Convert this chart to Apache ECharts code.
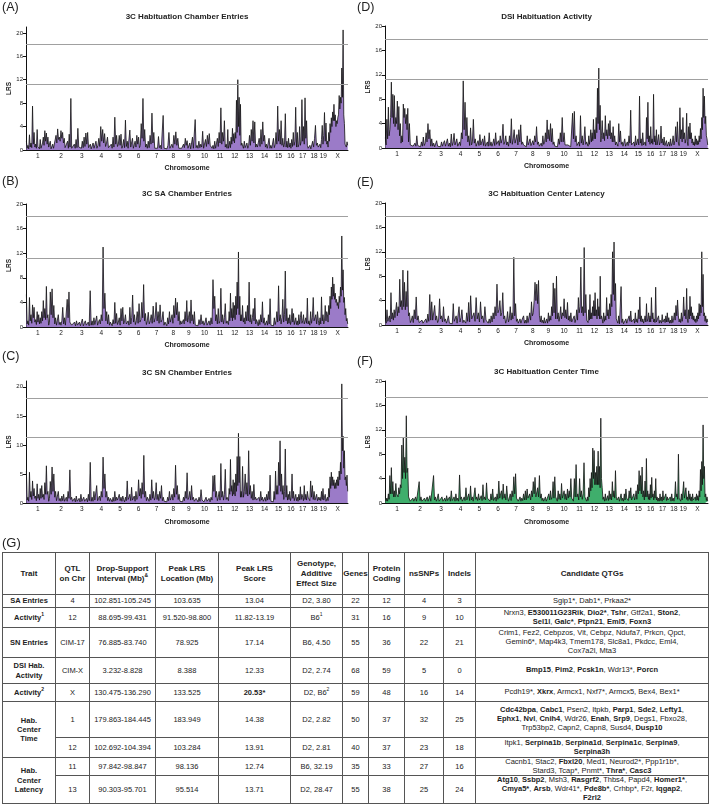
<!DOCTYPE html>
<html><head><meta charset="utf-8">
<script src="https://cdn.jsdelivr.net/npm/echarts@6/dist/echarts.min.js"></script>
<style>
body{margin:0;background:#fff;font-family:"Liberation Sans",Arial,sans-serif;color:#222;}
#chart{position:absolute;left:0;top:0;width:709px;height:540px;}
#glabel{position:absolute;left:2px;top:535px;font-size:13px;}
table{position:absolute;left:2px;top:552px;width:706px;border-collapse:collapse;table-layout:fixed;font-size:7.5px;}
td,th{border:1px solid #555;text-align:center;vertical-align:middle;padding:0;line-height:9.2px;white-space:nowrap;overflow:visible;}
td.q{line-height:8.7px;}
th{font-weight:bold;font-size:8px;line-height:10px;}
sup{font-size:5px;line-height:0;vertical-align:4px;}
</style></head>
<body>
<div id="chart"></div>
<div id="glabel">(G)</div>
<table>
<colgroup><col style="width:53px"><col style="width:34px"><col style="width:66px"><col style="width:63px"><col style="width:72px"><col style="width:52px"><col style="width:26px"><col style="width:36px"><col style="width:39px"><col style="width:32px"><col style="width:233px"></colgroup>
<tr style="height:42px"><th>Trait</th><th>QTL<br>on Chr</th><th>Drop-Support<br>Interval (Mb)<sup>&amp;</sup></th><th>Peak LRS<br>Location (Mb)</th><th>Peak LRS<br>Score</th><th>Genotype,<br>Additive<br>Effect Size</th><th>Genes</th><th>Protein<br>Coding</th><th>nsSNPs</th><th>Indels</th><th>Candidate QTGs</th></tr>
<tr style="height:13px"><td><b>SA Entries</b></td><td>4</td><td>102.851-105.245</td><td>103.635</td><td>13.04</td><td>D2, 3.80</td><td>22</td><td>12</td><td>4</td><td>3</td><td class="q">Sgip1*, Dab1*, Prkaa2*</td></tr>
<tr style="height:20px"><td><b>Activity<sup>1</sup></b></td><td>12</td><td>88.695-99.431</td><td>91.520-98.800</td><td>11.82-13.19</td><td>B6<sup>1</sup></td><td>31</td><td>16</td><td>9</td><td>10</td><td class="q">Nrxn3, <b>E530011G23Rik</b>, <b>Dio2*</b>, <b>Tshr</b>, Gtf2a1, <b>Ston2</b>,<br><b>Sel1l</b>, <b>Galc*</b>, <b>Ptpn21</b>, <b>Eml5</b>, <b>Foxn3</b></td></tr>
<tr style="height:30px"><td><b>SN Entries</b></td><td>CIM-17</td><td>76.885-83.740</td><td>78.925</td><td>17.14</td><td>B6, 4.50</td><td>55</td><td>36</td><td>22</td><td>21</td><td class="q">Crim1, Fez2, Cebpzos, Vit, Cebpz, Ndufa7, Prkcn, Qpct,<br>Gemin6*, Map4k3, Tmem178, Slc8a1, Pkdcc, Eml4,<br>Cox7a2l, Mta3</td></tr>
<tr style="height:26px"><td><b>DSI Hab.<br>Activity</b></td><td>CIM-X</td><td>3.232-8.828</td><td>8.388</td><td>12.33</td><td>D2, 2.74</td><td>68</td><td>59</td><td>5</td><td>0</td><td class="q"><b>Bmp15</b>, <b>Pim2</b>, <b>Pcsk1n</b>, Wdr13*, <b>Porcn</b></td></tr>
<tr style="height:18px"><td><b>Activity<sup>2</sup></b></td><td>X</td><td>130.475-136.290</td><td>133.525</td><td><b>20.53*</b></td><td>D2, B6<sup>2</sup></td><td>59</td><td>48</td><td>16</td><td>14</td><td class="q">Pcdh19*, <b>Xkrx</b>, Armcx1, Nxf7*, Armcx5, Bex4, Bex1*</td></tr>
<tr style="height:36px"><td rowspan="2"><b>Hab.<br>Center<br>Time</b></td><td>1</td><td>179.863-184.445</td><td>183.949</td><td>14.38</td><td>D2, 2.82</td><td>50</td><td>37</td><td>32</td><td>25</td><td class="q"><b>Cdc42bpa</b>, <b>Cabc1</b>, Psen2, Itpkb, <b>Parp1</b>, <b>Sde2</b>, <b>Lefty1</b>,<br><b>Ephx1</b>, <b>Nvl</b>, <b>Cnih4</b>, Wdr26, <b>Enah</b>, <b>Srp9</b>, Degs1, Fbxo28,<br>Trp53bp2, Capn2, Capn8, Susd4, <b>Dusp10</b></td></tr>
<tr style="height:20px"><td>12</td><td>102.692-104.394</td><td>103.284</td><td>13.91</td><td>D2, 2.81</td><td>40</td><td>37</td><td>23</td><td>18</td><td class="q">Itpk1, <b>Serpina1b</b>, <b>Serpina1d</b>, <b>Serpina1c</b>, <b>Serpina9</b>,<br><b>Serpina3h</b></td></tr>
<tr style="height:18px"><td rowspan="2"><b>Hab.<br>Center<br>Latency</b></td><td>11</td><td>97.842-98.847</td><td>98.136</td><td>12.74</td><td>B6, 32.19</td><td>35</td><td>33</td><td>27</td><td>16</td><td class="q">Cacnb1, Stac2, <b>Fbxl20</b>, Med1, Neurod2*, Ppp1r1b*,<br>Stard3, Tcap*, Pnmt*, <b>Thra*</b>, <b>Casc3</b></td></tr>
<tr style="height:26px"><td>13</td><td>90.303-95.701</td><td>95.514</td><td>13.71</td><td>D2, 28.47</td><td>55</td><td>38</td><td>25</td><td>24</td><td class="q"><b>Atg10</b>, <b>Ssbp2</b>, Msh3, <b>Rasgrf2</b>, Thbs4, Papd4, <b>Homer1*</b>,<br><b>Cmya5*</b>, <b>Arsb</b>, Wdr41*, <b>Pde8b*</b>, Crhbp*, F2r, <b>Iqgap2</b>,<br><b>F2rl2</b></td></tr>
</table>
<script>
const chrNames = ['1','2','3','4','5','6','7','8','9','10','11','12','13','14','15','16','17','18','19','X'];
const chrLengths = [195,182,160,157,152,150,145,129,125,131,122,120,121,125,104,98,95,91,61,171];
const panelTitles = ['3C Habituation Chamber Entries','3C SA Chamber Entries','3C SN Chamber Entries','DSI Habituation Activity','3C Habituation Center Latency','3C Habituation Center Time'];
const panelLetters = ['(A)','(B)','(C)','(D)','(E)','(F)'];
const suggestiveLRS = [11.3, 11.1, 11.3, 11.3, 11.0, 10.8];
const significantLRS = [18.1, 18.0, 18.0, 17.9, 17.9, 17.4];
const yTicks4 = [0,4,8,12,16,20];
const yTicks5 = [0,5,10,15,20];

// LRS values per chromosome (markers evenly spread along each chromosome)
const lrsA = [
 [1.5,0.3,0.8,0.2,2.6,0.5,1.2,0.4,7.5,1.0,3.0,0.5,1.0,0.3,3.5,0.6,0.6,0.2,1.8,0.3,0.5,1.2,2.2,0.8,3.3,1.5,2.9,1.0,2.2,0.5,0.4],
 [1.5,0.2,0.4,1.0,0.3,0.6,0.2,2.5,1.2,3.6,1.8,2.2,1.5,3.3,2.0,3.0,1.2,2.0,0.4,0.5,0.2,1.5,0.3,2.7,0.5,8.8,0.3],
 [0.6,0.2,1.0,0.3,1.8,0.4,3.7,0.5,0.8,0.2,0.3,1.5,0.4,2.2,0.6,2.9,1.0,3.0,0.4,0.5,1.0,0.2],
 [0.4,1.2,0.3,0.5,1.5,0.3,0.8,2.0,0.6,4.0,1.5,3.5,1.2,2.8,0.6,1.2,2.2,0.4,0.6,0.2],
 [1.0,0.3,2.2,0.5,5.6,1.0,2.5,0.6,1.0,2.5,0.8,2.7,0.3,0.8,1.8,0.4,5.1,0.6,1.5,0.3,0.6],
 [3.4,0.5,0.8,2.0,0.3,0.6,1.5,0.5,2.5,1.0,2.2,0.4,0.8,4.5,2.0,8.8,1.5,3.5,0.5,1.0,0.3],
 [1.5,0.4,2.5,1.0,6.3,1.2,3.0,0.3,0.6,0.2,0.3,2.3,0.4,0.8,0.2,0.4,5.9,0.3,0.5],
 [0.5,0.2,0.8,3.0,0.3,0.2,1.0,0.4,2.5,1.0,3.1,0.8,2.0,0.3,0.5,0.3],
 [0.3,0.2,1.0,0.4,2.0,0.8,1.6,0.3,0.5,1.2,0.2,0.4,2.2,0.3,0.6,5.2,0.4],
 [0.8,0.3,1.5,0.4,1.0,0.5,3.2,0.3,0.5,1.8,0.6,2.5,1.0,2.8,0.8,1.0,0.3],
 [0.8,0.2,1.5,0.3,0.5,2.0,0.6,3.0,1.2,7.2,1.0,3.0,1.5,5.0,0.5,1.0,0.3],
 [3.5,0.3,0.8,1.5,0.4,2.2,1.0,3.7,1.5,2.8,1.2,3.0,2.0,8.5,3.0,12.0,4.0,9.0,2.5,7.8,0.8,1.2],
 [1.0,0.3,1.5,0.4,0.5,1.2,0.3,0.8,2.5,0.8,3.5,1.5,5.0,1.2,4.8,0.5,1.0],
 [0.5,0.2,2.0,0.6,3.5,1.0,4.8,1.5,2.5,0.5,1.0,0.3,0.5,2.0,0.3,0.8,0.3],
 [0.5,2.0,0.4,1.0,3.0,1.0,7.5,1.5,3.5,1.0,5.0,0.8,2.0,0.5,1.0],
 [6.2,0.5,1.5,0.4,2.0,0.5,1.2,0.3,1.8,0.6,3.0,0.8,1.5,7.3,0.5],
 [3.0,0.5,1.0,4.0,0.8,1.5,8.6,1.5,4.0,1.0,8.9,2.0,5.0,0.8,0.3],
 [0.3,0.8,0.2,0.4,1.5,0.5,2.0,4.2,0.8,1.2,0.5,0.3],
 [1.0,0.4,1.8,4.2,1.0,2.5,6.4,1.5,4.6,1.0],
 [1.5,0.5,3.0,1.5,4.5,3.0,5.5,4.0,6.5,5.0,7.8,5.0,6.0,4.0,5.0,4.5,5.6,6.0,9.3,7.0,9.0,8.0,14.0,9.0,20.5,6.0,4.5,1.0,1.2,0.5,1.4,0.8]
];
const lrsB = [
 [5.3,0.5,1.0,0.3,4.8,1.0,2.0,0.6,3.6,1.5,3.2,0.8,1.2,0.4,2.5,0.8,2.0,0.5,1.5,0.6,2.5,1.0,4.3,1.5,3.0,1.2,6.6,1.5,2.0,0.3,0.8],
 [5.7,2.0,6.2,1.5,3.5,0.5,1.5,0.3,0.6,2.0,0.4,0.8,0.3,1.0,3.2,0.5,1.5,0.3,0.5,4.5,1.5,5.7,0.8,1.0,0.3],
 [0.3,0.1,0.8,0.2,1.0,0.3,0.5,0.8,0.2,0.3,1.3,0.2,0.6,1.0,0.3,0.4,0.8,0.2,5.9,0.3],
 [1.0,0.3,1.5,0.4,0.6,1.8,0.3,0.8,1.2,0.5,2.0,1.0,13.0,3.0,5.5,1.0,2.5,0.5,2.0,0.3,0.8],
 [0.5,0.2,1.2,0.5,4.0,0.6,2.2,0.4,0.8,1.5,0.3,3.0,1.0,3.2,0.5,1.0,2.0,0.5,0.6,1.0,0.3],
 [3.2,0.5,1.5,5.2,0.8,2.0,0.4,1.0,2.5,0.6,3.8,0.8,1.2,4.0,1.5,6.9,1.0,2.2,0.4,1.0],
 [2.4,0.5,1.0,2.0,0.6,3.4,0.8,1.5,4.0,1.0,2.5,0.6,3.6,0.8,1.2,2.5,0.3,0.8],
 [0.8,0.2,1.5,0.5,2.5,0.8,1.0,2.0,0.6,3.5,1.5,4.7,2.0,4.0,1.0,2.5,0.4,1.0],
 [0.5,0.2,1.2,0.5,2.5,1.0,4.3,0.8,1.5,2.5,0.6,4.4,1.0,2.0,0.5,2.5,0.3,0.6],
 [0.6,0.2,1.2,0.4,2.0,0.5,1.0,0.3,0.8,1.5,0.3,0.5,1.0,0.3,1.5,0.5],
 [7.7,3.0,5.0,1.0,2.0,0.5,3.0,0.6,1.0,6.3,0.8,2.0,0.5,1.5,3.8,0.6,1.0],
 [1.0,0.4,2.5,1.0,5.5,1.5,3.0,1.0,4.0,1.5,3.5,1.2,5.0,2.0,7.3,3.0,12.2,2.0,5.0,1.0,2.0,1.0],
 [3.5,0.8,1.5,0.5,2.5,1.0,3.5,1.0,7.3,0.8,2.0,0.5,1.5,3.0,1.0,4.7,0.5,1.2],
 [0.8,0.2,1.2,0.4,2.0,0.8,4.1,0.6,1.5,0.3,0.5,1.0,0.3,2.0,0.5,4.6,0.3,0.5],
 [0.5,0.2,1.5,0.4,1.0,2.5,0.8,6.7,1.0,2.0,0.5,1.5,4.5,0.8,2.0],
 [9.1,1.0,3.0,0.5,1.5,0.6,2.0,0.4,1.0,3.0,0.8,2.2,0.4,1.0,1.5,0.4],
 [1.0,0.3,2.0,0.5,1.5,2.5,0.6,1.0,2.0,0.5,0.8,1.5,0.6,4.7,0.5],
 [1.0,0.3,2.5,0.6,1.5,4.8,1.0,1.2,2.0,0.5,2.5,1.0,0.3],
 [1.5,0.5,4.9,1.0,2.0,0.5,1.0,3.5,1.0,2.5],
 [2.0,0.8,3.5,2.0,5.0,3.0,6.5,4.5,8.1,5.0,7.0,4.5,5.5,4.0,4.5,3.5,4.0,3.0,5.0,4.0,6.5,5.0,14.8,6.0,9.3,4.0,4.8,2.0,3.0,1.0,1.4,0.5]
];
const lrsC = [
 [5.5,0.5,1.0,0.3,5.3,1.0,2.0,0.6,3.8,1.2,2.5,0.8,1.2,0.4,3.3,0.8,1.5,0.5,2.5,0.8,3.0,1.0,1.5,0.6,3.5,1.5,6.4,1.5,2.0,0.3,0.8],
 [3.7,1.5,6.2,2.0,5.0,1.0,2.0,0.4,0.6,2.0,0.4,0.8,0.3,1.2,0.4,1.5,0.3,0.5,1.0,0.3,2.0,0.8,5.7,0.6,1.0],
 [0.3,0.1,0.8,0.2,1.2,0.3,0.5,0.8,0.2,1.5,0.3,0.1,1.0,0.3,0.5,0.8,0.2,1.5,0.4,7.0,0.3],
 [1.0,0.3,2.0,0.5,0.6,3.0,0.4,0.8,1.2,0.4,2.0,1.0,7.9,2.5,5.0,1.0,2.0,0.4,1.0,0.3,0.8],
 [0.5,0.2,1.0,0.3,2.0,0.4,1.0,0.5,0.2,1.5,0.4,1.0,0.3,1.2,0.6,0.2,1.0,0.4,3.8,0.6,1.0],
 [1.5,0.4,2.7,0.5,0.8,1.2,0.3,2.0,0.6,1.0,4.0,1.2,2.5,0.8,3.5,1.5,8.2,1.0,2.0,0.4,1.0],
 [1.0,0.3,1.5,0.5,4.0,0.8,2.0,0.5,1.0,3.5,0.6,1.5,0.4,2.0,0.8,3.0,0.4,1.0,0.3,0.5],
 [0.5,0.2,1.0,0.4,2.0,0.5,1.0,1.5,0.5,2.5,1.0,6.5,1.5,3.0,0.6,1.5,0.3,0.5],
 [0.5,0.2,1.0,0.4,2.0,0.8,5.2,0.6,1.0,2.0,0.5,3.0,0.6,1.0,0.3,0.5,0.8],
 [0.5,0.2,1.0,0.3,2.3,0.5,0.8,0.2,0.5,1.0,0.3,0.5,0.8,0.2,1.0,0.5],
 [4.7,2.0,4.8,1.0,2.0,0.4,1.0,2.0,0.5,6.8,1.0,2.0,0.5,1.5,5.8,0.6,1.0],
 [1.0,0.4,2.5,1.5,7.5,2.0,3.0,1.2,4.0,1.5,3.5,1.2,5.0,2.0,8.0,3.0,12.0,3.5,8.0,1.0,2.0,1.0],
 [6.3,1.0,2.0,5.0,1.5,3.5,1.2,9.0,1.5,3.0,0.8,2.0,0.5,3.2,0.6,1.0,0.5],
 [0.5,0.2,1.0,0.3,2.0,0.5,1.0,0.3,0.5,1.0,0.3,1.5,0.5,2.0,0.6,4.8,0.3,0.5],
 [0.5,0.2,2.0,0.6,5.5,1.5,3.0,1.5,7.0,3.0,10.7,2.0,5.0,1.5,3.0,0.6,2.0],
 [9.3,1.0,3.0,0.5,1.5,0.6,2.0,0.4,1.0,5.0,0.8,2.0,0.4,1.0,1.5,0.4],
 [1.0,0.3,1.5,0.5,2.8,0.6,1.5,1.0,0.4,3.0,0.6,1.5,0.5,2.0,1.0],
 [1.0,0.4,3.8,1.0,3.0,0.6,2.0,0.5,1.0,1.5,0.4,1.0,0.5],
 [1.0,0.4,2.0,0.6,2.5,0.5,1.0,1.5,0.3,0.5],
 [1.0,0.4,2.5,1.0,4.5,2.5,5.3,3.0,4.5,3.0,4.0,2.5,3.5,2.5,4.0,3.0,4.5,3.0,5.5,4.0,7.0,5.0,20.5,9.0,11.5,6.0,9.0,4.0,4.5,3.0,4.8,2.0]
];
const lrsD = [
 [1.7,0.5,4.7,1.5,6.7,2.0,3.0,5.0,10.8,5.0,8.8,4.0,8.6,3.5,5.0,4.0,7.7,3.0,6.8,2.0,4.0,0.8,2.0,1.0,7.2,5.0,6.5,4.0,5.5,3.0,6.5,1.0],
 [4.0,0.5,0.2,0.5,0.3,0.2,0.8,0.3,2.0,0.4,0.5,0.3,0.2,1.0,0.3,1.8,0.4,0.8,2.5,1.0,4.0,1.5,3.0,0.3],
 [1.5,0.3,0.8,0.2,0.3,1.2,0.3,0.6,0.4,0.2,1.0,0.3,0.8,1.2,0.3,0.5,1.5,0.3,0.8,0.2],
 [2.3,0.4,1.0,2.4,0.5,0.8,1.5,0.3,0.5,1.0,0.4,2.5,1.5,11.0,3.0,7.5,2.0,5.0,1.0,2.0,0.4],
 [3.3,0.5,1.0,4.7,0.8,1.5,0.3,0.8,1.2,0.4,2.2,0.5,0.8,1.5,0.4,2.0,0.3,0.6,1.0,0.3],
 [2.5,0.4,1.0,0.3,0.8,1.5,0.4,2.5,0.6,0.8,1.2,0.4,2.0,0.8,1.5,3.9,0.6,1.0,2.0,0.5],
 [1.0,0.3,2.0,0.8,4.8,0.6,1.5,3.0,0.8,1.0,2.2,0.5,3.0,1.0,3.8,0.6,1.0,0.5,0.3],
 [0.5,0.2,2.0,0.5,1.0,1.5,0.4,0.8,1.2,0.5,2.0,1.0,3.5,0.6,1.0,0.3,0.5],
 [0.8,0.3,2.0,0.6,1.0,2.5,1.0,4.6,1.5,3.0,1.2,4.0,1.0,3.2,0.6,1.0,0.3,0.5],
 [0.5,0.2,1.5,0.6,2.5,1.0,5.0,1.0,2.5,0.5,0.8,0.3,0.5,0.3,0.4,0.2,0.5],
 [5.7,1.5,6.0,1.0,2.0,0.4,0.5,1.0,0.3,5.3,0.8,2.0,0.5,1.5,3.5,0.6,1.0],
 [1.0,0.3,2.0,0.6,1.5,3.0,1.0,2.5,1.2,4.7,1.5,3.0,1.5,5.0,2.5,9.8,4.0,13.1,3.0,7.0,1.0,2.0],
 [4.5,1.5,2.5,1.2,5.3,2.0,3.0,1.5,4.0,2.0,4.5,1.5,2.5,1.0,3.5,1.0,2.0,0.5,1.0],
 [1.0,0.3,4.0,1.0,2.8,0.6,1.0,0.3,0.5,1.5,0.3,0.5,1.0,0.4,2.0,0.8,6.2,0.5],
 [0.5,0.2,1.0,0.3,2.0,0.5,0.8,1.5,0.5,8.5,0.8,1.5,0.4,2.5,0.5,0.8],
 [1.0,0.4,5.0,1.5,7.5,1.0,2.0,0.6,3.5,0.8,1.5,0.6,8.8,1.0,2.0,0.5,3.0],
 [0.5,0.2,2.2,0.5,1.0,3.6,0.8,1.5,0.5,1.8,0.4,0.8,1.2,0.3,0.5],
 [1.0,0.3,1.5,0.4,0.8,2.0,0.5,1.2,3.5,1.0,4.3,1.0,0.4],
 [6.6,1.5,3.0,1.0,5.0,1.5,2.5,0.8,1.5,5.7],
 [1.0,0.4,3.5,1.5,4.1,1.5,2.5,0.8,1.5,0.5,1.0,0.4,2.0,0.6,1.5,0.5,1.2,0.6,2.0,1.0,3.2,1.5,5.0,3.0,9.8,5.0,8.5,4.0,5.2,2.0,1.5,0.5]
];
const lrsE = [
 [1.0,0.3,2.5,0.6,0.8,1.5,0.5,5.3,1.0,2.0,0.8,2.5,1.2,1.5,3.7,1.5,3.0,2.0,7.5,3.0,4.0,2.5,9.0,3.0,7.0,2.5,5.5,3.0,8.9,1.5],
 [2.0,0.4,0.8,1.5,0.4,2.5,1.0,4.6,0.8,1.5,0.4,0.5,0.2,0.8,0.3,0.5,0.2,1.0,0.4,1.8,0.6,5.0,0.8],
 [3.8,0.8,1.0,3.2,0.8,1.5,0.4,0.8,4.3,1.0,1.5,0.5,3.0,0.6,1.0,0.3,0.8,1.5,0.3,0.5],
 [0.5,0.2,3.5,0.6,0.8,1.5,0.3,0.5,3.0,0.5,1.2,2.5,0.4,0.8,1.0,0.3,2.0,0.6,3.7,0.5],
 [4.8,1.0,1.5,2.0,0.6,4.5,1.0,2.0,0.5,3.8,1.0,1.5,0.4,3.0,0.8,1.0,0.3],
 [1.0,0.3,1.5,0.5,2.0,1.0,3.0,1.5,6.7,2.0,2.5,4.0,1.5,2.0,5.3,1.0,1.5,0.3,0.8],
 [2.2,0.5,1.0,3.0,0.8,2.0,1.0,11.1,1.5,3.5,0.6,1.0,0.3,0.5,1.0,0.3,0.8,0.5,1.5,0.3],
 [0.8,0.3,1.5,0.4,0.5,2.0,0.8,3.8,1.5,2.0,4.0,7.0,4.0,6.7,3.5,7.3,1.5,0.5],
 [1.5,0.4,0.8,0.3,1.2,0.3,0.5,1.0,0.3,2.0,0.6,1.5,0.8,3.0,1.5,6.9,2.0,6.0,1.0],
 [8.0,1.0,2.0,0.6,1.5,3.0,1.0,2.0,1.5,4.3,1.2,2.5,1.0,3.7,0.8,1.5,0.6,2.0,0.5],
 [0.8,0.3,1.5,0.4,1.0,2.5,0.8,4.5,2.0,3.0,9.5,2.0,3.0,1.5,12.7,2.0,5.0,0.8],
 [1.0,0.4,2.5,0.8,5.0,1.0,2.0,1.0,3.0,1.5,4.0,1.5,5.3,1.5,2.5,1.0,4.3,1.5,3.0,1.0,8.0,1.0,1.5],
 [1.0,0.3,2.0,0.6,1.5,0.8,4.5,1.5,2.5,1.0,3.5,1.5,5.0,3.0,12.0,5.0,13.6,4.0,6.8,1.0],
 [1.0,0.3,1.5,0.2,0.5,6.3,0.4,1.0,0.2,0.5,0.2,1.0,0.3,0.8,0.5,1.5,0.6,2.3,0.5],
 [0.5,0.2,1.0,0.3,2.0,0.5,1.0,0.4,2.5,1.0,4.6,0.6,1.5,0.5,1.0,0.3,0.8],
 [1.5,0.5,3.5,0.6,1.0,2.0,0.5,1.5,0.5,4.5,1.0,2.0,0.5,1.0,0.4,6.2,0.5],
 [0.5,0.2,1.5,0.3,0.8,1.0,0.3,1.7,0.5,0.2,1.0,0.4,1.5,0.5,2.0,0.5],
 [1.2,0.3,0.8,0.3,1.5,0.4,1.0,2.0,0.8,3.2,1.5,4.1,1.5,0.5],
 [1.0,0.4,2.0,0.6,1.5,4.6,1.5,2.5,1.0,6.0],
 [1.0,0.4,2.5,1.0,4.7,1.5,3.0,1.0,2.0,0.8,1.5,0.6,1.0,0.4,1.5,0.6,2.0,1.0,3.5,1.5,3.3,2.0,12.0,3.0,8.3,1.5,2.0,0.6,1.5,0.4,1.0,0.5]
];
const lrsF = [
 [1.0,0.3,0.8,0.3,1.5,0.6,4.5,1.5,5.8,1.5,3.5,1.0,2.0,1.0,3.2,1.5,1.5,1.0,2.5,1.5,3.0,2.5,9.5,4.0,10.7,5.0,7.5,4.0,14.3,5.0,5.7,1.0],
 [1.0,0.3,0.5,0.2,0.8,0.3,0.2,1.0,0.3,0.5,0.2,3.5,0.4,1.0,0.3,0.5,0.2,0.8,0.3,0.2,1.0,0.3,0.5,1.2,0.3],
 [0.5,0.2,4.5,0.5,1.0,0.3,0.8,1.5,0.3,0.5,0.2,1.0,0.3,0.2,0.8,0.3,1.2,0.4,0.5,1.0,0.3],
 [2.0,0.4,0.5,1.0,0.3,1.5,0.4,0.8,0.3,4.6,0.6,1.0,0.3,0.5,1.0,0.4,2.5,0.5,0.8,1.5,0.4],
 [2.8,0.5,1.0,0.3,0.5,2.5,0.6,1.0,0.4,1.5,0.5,0.8,1.2,0.4,3.0,0.6,1.0,0.5,3.3,0.8,1.0],
 [0.8,0.3,1.5,0.5,2.3,0.4,0.5,1.0,0.3,1.5,0.6,3.6,0.8,1.0,2.0,0.6,3.1,0.8,1.5,0.5,2.8],
 [1.0,0.3,0.5,1.5,0.4,2.0,1.0,4.3,1.5,4.8,0.8,1.0,0.3,0.5,1.0,0.3,0.8,0.4,1.5,0.5],
 [2.0,0.5,2.3,0.8,1.0,1.5,0.5,2.0,1.0,3.5,1.5,4.2,1.0,1.0,2.5,1.0,4.5,0.8],
 [1.5,0.4,0.8,0.3,0.5,1.0,0.3,0.5,0.2,1.5,0.5,2.0,0.6,1.0,3.5,0.8,4.3,1.0],
 [1.0,0.3,2.0,0.6,1.5,0.5,3.2,0.8,1.0,2.0,0.6,1.5,0.5,2.3,0.8,2.0,1.0,4.0,0.8],
 [1.0,0.3,4.0,1.0,6.3,1.0,1.5,0.5,4.0,1.0,2.0,0.6,1.5,6.6,1.0,0.8,0.3],
 [1.0,0.4,2.5,1.0,4.0,2.0,5.0,2.5,9.0,4.0,8.6,3.0,5.0,3.0,6.0,3.0,8.5,3.0,6.0,2.5,13.9,4.0],
 [2.5,0.6,1.0,0.3,1.5,0.4,0.8,1.2,0.4,2.0,0.6,1.5,0.5,3.5,1.0,2.0,0.8,5.3,1.0],
 [0.5,0.2,1.0,0.3,0.2,1.5,0.4,0.8,0.3,1.5,0.5,2.3,0.8,1.0,0.4,2.0,0.8,2.5,0.5],
 [0.8,0.3,1.5,0.5,1.0,2.0,0.6,3.0,1.5,5.3,2.0,4.5,1.5,5.9,1.0,2.0,0.5],
 [3.6,1.0,7.3,1.0,2.0,0.6,1.5,0.5,3.0,0.8,4.2,1.0,1.5,0.5,2.0,0.8,4.0,0.5],
 [1.0,0.3,0.8,0.3,1.5,0.4,1.0,0.3,2.0,0.5,0.8,0.3,1.5,0.4,1.0,0.5],
 [0.5,0.2,1.0,0.3,1.5,0.4,0.8,0.3,1.0,3.5,1.0,1.5,0.6,8.0,0.8],
 [1.0,0.3,1.5,0.5,2.0,3.5,0.8,1.0,2.5,0.6],
 [1.0,0.4,2.0,0.6,1.5,0.4,1.0,0.3,1.5,0.5,0.8,0.3,1.0,0.4,1.5,0.5,1.2,0.4,2.0,1.0,5.5,2.0,6.8,3.0,12.8,4.0,6.0,1.0,1.5,0.4,1.0,0.3]
];

const panelData = [lrsA, lrsB, lrsC, lrsD, lrsE, lrsF];
const fillColors = ['#9b7bc8','#9b7bc8','#9b7bc8','#9b7bc8','#9b7bc8','#3fae6c'];
// layout (pixels)
const grids = [
 {left:26, top:27, width:322, height:123},
 {left:26, top:204, width:322, height:123},
 {left:26, top:381, width:322, height:122},
 {left:385, top:26, width:323, height:122},
 {left:385, top:203, width:323, height:122},
 {left:385, top:381, width:323, height:122}
];
const yMax = [21,20,21,20,20,20];
const yInt = [4,4,5,4,4,4];
const titleY = [17,194,373,17,194,372];
const letterPos = [[2,8],[2,182],[2,357],[357,8],[357,183],[357,362]];
const nameGaps = [15,15,16,15,15,16];

const genomeTotal = chrLengths.reduce((a,b)=>a+b,0);
const chrStarts = []; { let s=0; chrLengths.forEach(l=>{chrStarts.push(s); s+=l;}); }
const chrCenters = chrLengths.map((l,i)=>chrStarts[i]+l/2);

function toPoints(arr){
  const pts=[];
  arr.forEach((vals,c)=>{ vals.forEach((v,i)=>pts.push([chrStarts[c]+(i+0.5)/vals.length*chrLengths[c], v])); });
  return pts;
}

const chart = echarts.init(document.getElementById('chart'), null, {renderer:'canvas'});
const option = {
  animation:false,
  textStyle:{fontFamily:'"Liberation Sans", Arial, sans-serif'},
  grid: grids.map(g=>Object.assign({containLabel:false}, g)),
  xAxis: grids.map((g,i)=>({
    type:'value', gridIndex:i, min:0, max:genomeTotal,
    axisLine:{show:true, lineStyle:{color:'#111', width:1}},
    axisTick:{show:false},
    splitLine:{show:false},
    axisLabel:{customValues:chrCenters, formatter:(v)=>{const k=chrCenters.findIndex(c=>Math.abs(c-v)<0.01); return k>=0?chrNames[k]:'';}, fontSize:6.5, color:'#222', margin:3},
    name:'Chromosome', nameLocation:'middle', nameGap:nameGaps[i],
    nameTextStyle:{fontSize:7, fontWeight:'bold', color:'#222'}
  })),
  yAxis: grids.map((g,i)=>({
    type:'value', gridIndex:i, min:0, max:yMax[i], interval:yInt[i],
    axisLine:{show:true, lineStyle:{color:'#111', width:1}},
    axisTick:{show:true, length:3, lineStyle:{color:'#111'}, customValues:(yInt[i]===5?yTicks5:yTicks4)},
    splitLine:{show:false},
    axisLabel:{fontSize:6, color:'#222', margin:3, customValues:(yInt[i]===5?yTicks5:yTicks4)},
    name:'LRS', nameLocation:'middle', nameGap:13, nameRotate:90,
    nameTextStyle:{fontSize:6.5, fontWeight:'bold', color:'#222'}
  })),
  series: panelData.map((d,i)=>({
    type:'line', xAxisIndex:i, yAxisIndex:i, data:toPoints(d),
    showSymbol:false, symbol:'none', smooth:false,
    lineStyle:{color:'#141414', width:0.8},
    areaStyle:{color:fillColors[i], opacity:1},
    markLine:{silent:true, symbol:'none', animation:false, label:{show:false},
      lineStyle:{color:'#a0a0a0', width:1, type:'solid'},
      data:[{yAxis:suggestiveLRS[i]},{yAxis:significantLRS[i]}]}
  })),
  graphic: [].concat(
    grids.map((g,i)=>({type:'text', x:g.left+g.width/2, y:titleY[i], silent:true,
      style:{text:panelTitles[i], align:'center', verticalAlign:'middle', fontSize:8, fontWeight:'bold', fill:'#222', fontFamily:'"Liberation Sans", Arial, sans-serif'}})),
    letterPos.map((p,i)=>({type:'text', x:p[0], y:p[1], silent:true,
      style:{text:panelLetters[i], align:'left', verticalAlign:'middle', fontSize:12.5, fill:'#222', fontFamily:'"Liberation Sans", Arial, sans-serif'}}))
  )
};
chart.setOption(option);
</script>
</body></html>
